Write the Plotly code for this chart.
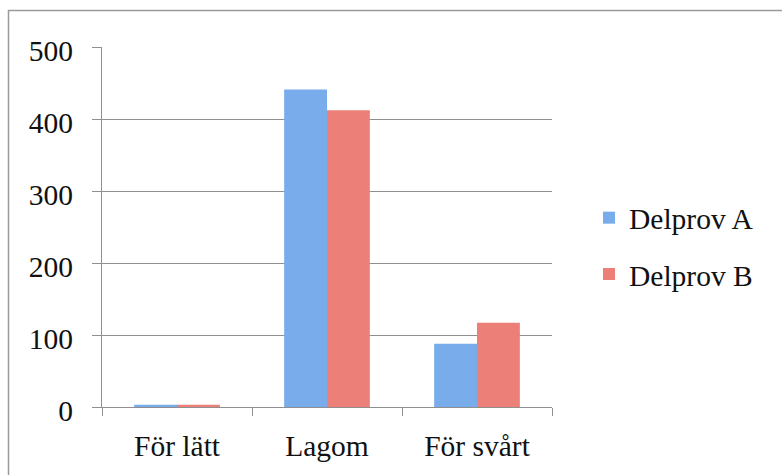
import plotly.graph_objects as go

# Survey answers: how difficult each part of the test was perceived
categories = ["För lätt", "Lagom", "För svårt"]
delprov_a = [3, 441, 88]
delprov_b = [3, 412, 117]
series_names = ["Delprov A", "Delprov B"]
y_ticks = [0, 100, 200, 300, 400, 500]

W, H = 782, 475
ML, MR, MT, MB = 102, 230, 47, 68
PW, PH = W - ML - MR, H - MT - MB

FONT = "Liberation Serif"
FSIZE = 29.5
INK = "#111111"
GRID = "#8f8f8f"


def px_x(p):
    return (p - ML) / PW


def px_y(p):
    return (H - MB - p) / PH


fig = go.Figure()
fig.add_trace(go.Bar(
    x=categories, y=delprov_a, name=series_names[0], legendgroup="a",
    marker=dict(color="#78aceb", line=dict(width=0)),
))
fig.add_trace(go.Bar(
    x=categories, y=delprov_b, name=series_names[1], legendgroup="b",
    marker=dict(color="#ec7f77", line=dict(width=0)),
))

fig.update_layout(
    width=W, height=H,
    margin=dict(l=ML, r=MR, t=MT, b=MB, pad=0),
    paper_bgcolor="white", plot_bgcolor="white",
    barmode="group", bargap=0.4286, bargroupgap=0,
    font=dict(family=FONT, size=FSIZE, color=INK),
    showlegend=True,
    legend=dict(
        x=px_x(589), xanchor="left", y=px_y(192), yanchor="top",
        traceorder="grouped", tracegroupgap=15,
        font=dict(family=FONT, size=FSIZE, color=INK),
        bgcolor="rgba(0,0,0,0)", itemwidth=30,
    ),
    xaxis=dict(
        type="category", showgrid=False,
        showline=True, linecolor=GRID, linewidth=1,
        ticks="outside", tickson="boundaries", ticklen=8, tickcolor=GRID,
        tickfont=dict(family=FONT, size=FSIZE, color=INK),
        ticklabelstandoff=13,
    ),
    yaxis=dict(
        range=[0, 500], tickvals=y_ticks,
        showgrid=True, gridcolor=GRID, gridwidth=1,
        zeroline=False,
        showline=True, linecolor=GRID, linewidth=1,
        ticks="outside", ticklen=9, tickcolor=GRID,
        tickfont=dict(family=FONT, size=FSIZE, color=INK),
        ticklabelstandoff=13, ticklabelshift=4,
    ),
    shapes=[dict(
        type="rect", xref="paper", yref="paper",
        x0=px_x(8.5), x1=px_x(W + 20), y0=px_y(H + 20), y1=px_y(10.5),
        line=dict(color="#9a9a9a", width=1.5), fillcolor="rgba(0,0,0,0)",
        layer="below",
    )],
)

fig.write_html("out.html")
